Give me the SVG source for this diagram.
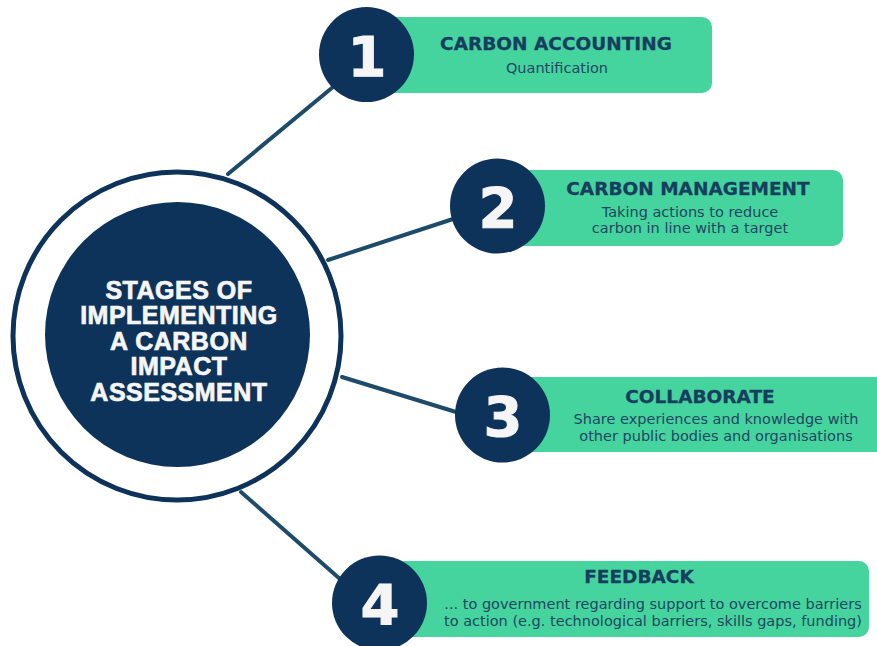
<svg xmlns="http://www.w3.org/2000/svg" width="877" height="646" viewBox="0 0 877 646">
<style>
.bg{fill:#ffffff}
.conn{stroke:#1d4b69;stroke-width:4;stroke-linecap:round;fill:none}
.box{fill:#45d49d}
.num{fill:#0e335a}
.digit{font-family:"DejaVu Sans","Liberation Sans",sans-serif;font-weight:bold;font-size:56px;fill:#f5f5f5;stroke:#f5f5f5;stroke-width:1;text-anchor:middle}
.title{font-family:"DejaVu Sans","Liberation Sans",sans-serif;font-weight:bold;font-size:18.5px;fill:#173e5e;stroke:#173e5e;stroke-width:0.3;text-anchor:middle}
.sub{font-family:"DejaVu Sans","Liberation Sans",sans-serif;font-size:14.5px;fill:#1f4763;text-anchor:middle}
.hub{font-family:"Liberation Sans",Arial,sans-serif;font-weight:bold;font-size:25px;fill:#f5f5f5;stroke:#f5f5f5;stroke-width:0.7;text-anchor:middle;letter-spacing:0.5px}
</style>
<rect class="bg" x="0" y="0" width="877" height="646"/>
<g id="connectors">
<line class="conn" x1="228" y1="174" x2="333" y2="87"/>
<line class="conn" x1="328" y1="260" x2="453" y2="219"/>
<line class="conn" x1="342" y1="377" x2="456" y2="412"/>
<line class="conn" x1="241" y1="492" x2="340" y2="579"/>
</g>
<g id="hub">
<circle cx="177" cy="336" r="164" fill="#ffffff" stroke="#0e335a" stroke-width="5"/>
<circle cx="177.5" cy="334.5" r="132.5" fill="#0e335a"/>
<text class="hub" x="179" y="298.5">STAGES OF</text>
<text class="hub" x="179" y="324">IMPLEMENTING</text>
<text class="hub" x="179" y="349.5">A CARBON</text>
<text class="hub" x="179" y="375">IMPACT</text>
<text class="hub" x="179" y="400.5">ASSESSMENT</text>
</g>
<g id="stage1">
<rect class="box" x="380" y="17" width="332" height="76" rx="10"/>
<circle class="num" cx="366.5" cy="54.5" r="47.5"/>
<text class="digit" x="367" y="76">1</text>
<text class="title" x="556" y="50">CARBON ACCOUNTING</text>
<text class="sub" x="557" y="73">Quantification</text>
</g>
<g id="stage2">
<rect class="box" x="510" y="170" width="333" height="76" rx="10"/>
<circle class="num" cx="497.5" cy="206" r="47.5"/>
<text class="digit" x="498" y="227">2</text>
<text class="title" x="688" y="195">CARBON MANAGEMENT</text>
<text class="sub" x="690" y="216.5">Taking actions to reduce</text>
<text class="sub" x="690" y="233">carbon in line with a target</text>
</g>
<g id="stage3">
<rect class="box" x="515" y="377" width="372" height="75" rx="10"/>
<circle class="num" cx="502.5" cy="415" r="47.5"/>
<text class="digit" x="503" y="436">3</text>
<text class="title" x="700" y="403">COLLABORATE</text>
<text class="sub" x="716" y="423.5">Share experiences and knowledge with</text>
<text class="sub" x="716" y="440.5">other public bodies and organisations</text>
</g>
<g id="stage4">
<rect class="box" x="395" y="561" width="474" height="76" rx="10"/>
<circle class="num" cx="379.5" cy="603" r="47.5"/>
<text class="digit" x="380" y="624">4</text>
<text class="title" x="639" y="583">FEEDBACK</text>
<text class="sub" x="653" y="609">... to government regarding support to overcome barriers</text>
<text class="sub" x="653" y="626">to action (e.g. technological barriers, skills gaps, funding)</text>
</g>
</svg>
